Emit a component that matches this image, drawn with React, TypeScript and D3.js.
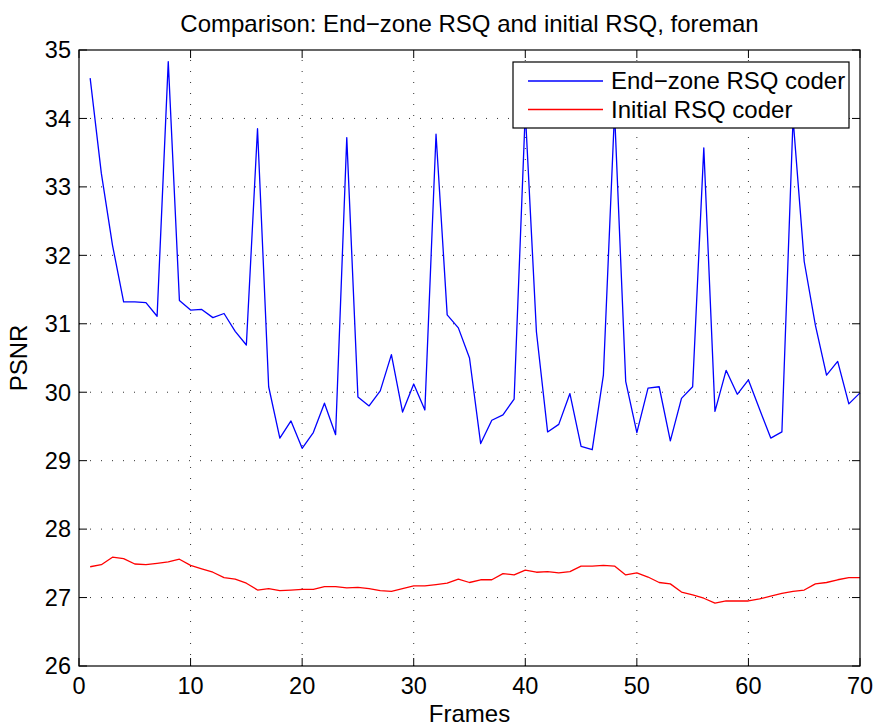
import React from "react";
import * as d3 from "d3";

const frames = d3.range(1, 71);
const endZone = [
  34.59, 33.2, 32.15, 31.32, 31.32, 31.31, 31.11, 34.83, 31.34, 31.2,
  31.21, 31.09, 31.15, 30.89, 30.69, 33.85, 30.08, 29.33, 29.58, 29.18,
  29.41, 29.84, 29.38, 33.72, 29.93, 29.8, 30.02, 30.55, 29.71, 30.12,
  29.74, 33.77, 31.13, 30.94, 30.5, 29.25, 29.59, 29.67, 29.9, 34.1,
  30.88, 29.42, 29.53, 29.98, 29.21, 29.16, 30.25, 34.1, 30.16, 29.41,
  30.06, 30.08, 29.29, 29.91, 30.08, 33.57, 29.72, 30.32, 29.97, 30.18,
  29.75, 29.33, 29.42, 34.0, 31.91, 30.98, 30.25, 30.45, 29.83, 29.99,
];
const initial = [
  27.45, 27.48, 27.59, 27.57, 27.49, 27.48, 27.5, 27.52, 27.56, 27.47,
  27.42, 27.37, 27.29, 27.27, 27.21, 27.11, 27.13, 27.1, 27.11, 27.12,
  27.12, 27.16, 27.16, 27.14, 27.15, 27.13, 27.1, 27.09, 27.13, 27.17,
  27.17, 27.19, 27.21, 27.27, 27.22, 27.26, 27.26, 27.35, 27.33, 27.4,
  27.37, 27.38, 27.36, 27.38, 27.46, 27.46, 27.47, 27.46, 27.33, 27.36,
  27.3, 27.22, 27.2, 27.08, 27.04, 26.99, 26.92, 26.95, 26.95, 26.95,
  26.98, 27.02, 27.06, 27.09, 27.11, 27.2, 27.22, 27.26, 27.29, 27.29,
];
const xTicks = [0, 10, 20, 30, 40, 50, 60, 70];
const yTicks = [26, 27, 28, 29, 30, 31, 32, 33, 34, 35];
const seriesNames = ["End\u2212zone RSQ coder", "Initial RSQ coder"];
const seriesColors = ["#0000ff", "#ff0000"];
const title = "Comparison: End\u2212zone RSQ and initial RSQ, foreman";

const W = 875, H = 725;
const L = 79, R = 860, T = 50, B = 666;
const FONT = "'Liberation Sans', Arial, Helvetica, sans-serif";
const FS = 23.5;
const FS_T = 24;

export default function App() {
  const x = d3.scaleLinear().domain([0, 70]).range([L, R]);
  const y = d3.scaleLinear().domain([26, 35]).range([B, T]);
  const line = d3
    .line<[number, number]>()
    .x((d) => x(d[0]))
    .y((d) => y(d[1]));
  const series = [endZone, initial].map((vals) =>
    vals.map((v, i) => [frames[i], v] as [number, number])
  );
  const tick = 8;
  return (
    <svg
      width={W}
      height={H}
      style={{ position: "absolute", left: 0, top: 0, background: "#fff" }}
      fontFamily={FONT}
    >
      <rect x={0} y={0} width={W} height={H} fill="#fff" />
      {/* grid */}
      <g stroke="#000" strokeWidth={1} strokeDasharray="1 10" opacity={0.8}>
        {xTicks.slice(1, -1).map((t) => (
          <line key={"gx" + t} x1={x(t)} x2={x(t)} y1={B} y2={T} />
        ))}
        {yTicks.slice(1, -1).map((t) => (
          <line key={"gy" + t} x1={L} x2={R} y1={y(t)} y2={y(t)} />
        ))}
      </g>
      {/* data lines */}
      {series.map((s, i) => (
        <path
          key={"s" + i}
          d={line(s) || ""}
          fill="none"
          stroke={seriesColors[i]}
          strokeWidth={1.3}
          strokeLinejoin="round"
        />
      ))}
      {/* ticks */}
      <g stroke="#000" strokeWidth={1}>
        {xTicks.map((t) => (
          <g key={"tx" + t}>
            <line x1={x(t)} x2={x(t)} y1={B} y2={B - tick} />
            <line x1={x(t)} x2={x(t)} y1={T} y2={T + tick} />
          </g>
        ))}
        {yTicks.map((t) => (
          <g key={"ty" + t}>
            <line x1={L} x2={L + tick} y1={y(t)} y2={y(t)} />
            <line x1={R} x2={R - tick} y1={y(t)} y2={y(t)} />
          </g>
        ))}
      </g>
      {/* box */}
      <rect
        x={L}
        y={T}
        width={R - L}
        height={B - T}
        fill="none"
        stroke="#000"
        strokeWidth={1.2}
      />
      {/* tick labels */}
      <g fontSize={FS} fill="#000">
        {xTicks.map((t) => (
          <text key={"lx" + t} x={x(t)} y={B + 28} textAnchor="middle">
            {t}
          </text>
        ))}
        {yTicks.map((t) => (
          <text key={"ly" + t} x={L - 8} y={y(t) + 8.3} textAnchor="end">
            {t}
          </text>
        ))}
      </g>
      {/* titles */}
      <text x={(L + R) / 2} y={32} textAnchor="middle" fontSize={FS_T}>
        {title}
      </text>
      <text x={(L + R) / 2} y={722} textAnchor="middle" fontSize={FS_T}>
        Frames
      </text>
      <text
        transform={`translate(27,${(T + B) / 2}) rotate(-90)`}
        textAnchor="middle"
        fontSize={FS_T}
      >
        PSNR
      </text>
      {/* legend */}
      <g>
        <rect x={513} y={62} width={336} height={66} fill="#fff" stroke="#000" strokeWidth={1.2} />
        {seriesNames.map((n, i) => (
          <g key={"lg" + i}>
            <line
              x1={528}
              x2={603}
              y1={81 + i * 28.5}
              y2={81 + i * 28.5}
              stroke={seriesColors[i]}
              strokeWidth={1.3}
            />
            <text x={611} y={89 + i * 28.5} fontSize={FS_T}>
              {n}
            </text>
          </g>
        ))}
      </g>
    </svg>
  );
}
